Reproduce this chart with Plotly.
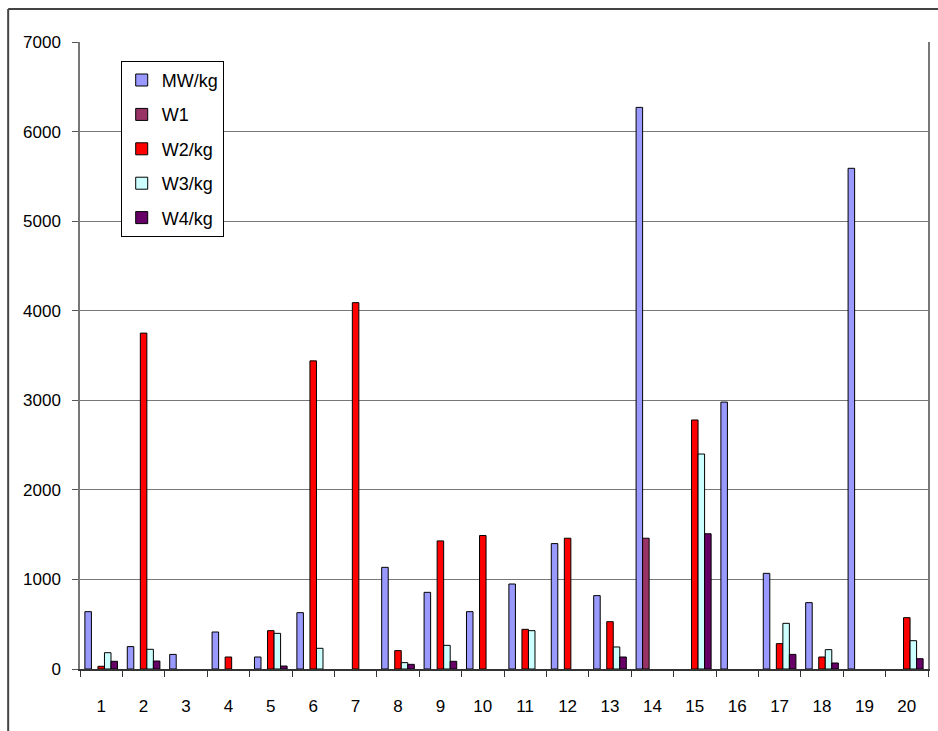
import plotly.graph_objects as go

samples = [str(i) for i in range(1, 21)]

# blank cells (no measurement) are None
mw_kg = [640, 250, 163, 413, 134, 629, None, 1135, 856, 640, 949, 1400, 819, 6270, None, 2980, 1068, 741, 5590, None]
w1 = [None, None, None, None, None, None, None, None, None, None, None, None, None, 1460, None, None, None, None, None, None]
w2_kg = [30, 3750, None, 134, 428, 3440, 4090, 205, 1430, 1490, 443, 1460, 528, None, 2780, None, 283, 134, None, 573]
w3_kg = [182, 220, None, None, 398, 231, None, 71, 264, None, 428, None, 246, None, 2400, None, 510, 216, None, 316]
w4_kg = [86, 89, None, None, 33, None, None, 52, 86, None, None, None, 134, None, 1510, None, 163, 67, None, 115]

series = [
    ("MW/kg", mw_kg, "#9999FF"),
    ("W1", w1, "#993366"),
    ("W2/kg", w2_kg, "#FF0000"),
    ("W3/kg", w3_kg, "#CCFFFF"),
    ("W4/kg", w4_kg, "#660066"),
]

FONT = "Liberation Sans, Arial, sans-serif"

fig = go.Figure()
for name, vals, color in series:
    fig.add_trace(go.Bar(
        x=samples, y=vals, name=name, legendgroup=name,
        marker=dict(color=color, line=dict(color="#000000", width=1)),
    ))

fig.update_layout(
    width=938, height=731,
    margin=dict(l=80, r=8, t=42, b=62),
    paper_bgcolor="white", plot_bgcolor="white",
    barmode="group", bargap=0.23, bargroupgap=0,
    font=dict(family=FONT, size=17, color="#000000"),
    showlegend=True,
    legend=dict(
        x=0.048, y=0.97, xanchor="left", yanchor="top",
        bgcolor="white", bordercolor="#000000", borderwidth=1,
        font=dict(family=FONT, size=18, color="#000000"),
        tracegroupgap=8, itemwidth=30, traceorder="grouped",
    ),
    xaxis=dict(
        type="category", showgrid=False, showline=True,
        linecolor="#333333", linewidth=1.5,
        ticks="outside", tickson="boundaries", ticklen=6, tickcolor="#333333",
        ticklabelstandoff=21,
        tickfont=dict(family=FONT, size=17),
    ),
    yaxis=dict(
        range=[0, 7000], dtick=1000, tick0=0,
        showgrid=True, gridcolor="#777777", gridwidth=1.2,
        showline=True, linecolor="#777777", linewidth=1.5, mirror=True,
        ticks="outside", ticklen=6, tickcolor="#555555",
        zeroline=False, ticklabelstandoff=8,
        tickfont=dict(family=FONT, size=17),
    ),
    shapes=[
        # outer chart frame (top and left edges)
        dict(type="line", xref="paper", yref="paper",
             x0=(8 - 80) / 850, x1=1.02, y0=(669 - 9) / 627, y1=(669 - 9) / 627,
             line=dict(color="#444444", width=2)),
        dict(type="line", xref="paper", yref="paper",
             x0=(8 - 80) / 850, x1=(8 - 80) / 850, y0=(669 - 9) / 627, y1=-0.15,
             line=dict(color="#444444", width=2)),
    ],
)

fig.write_html("out.html")
